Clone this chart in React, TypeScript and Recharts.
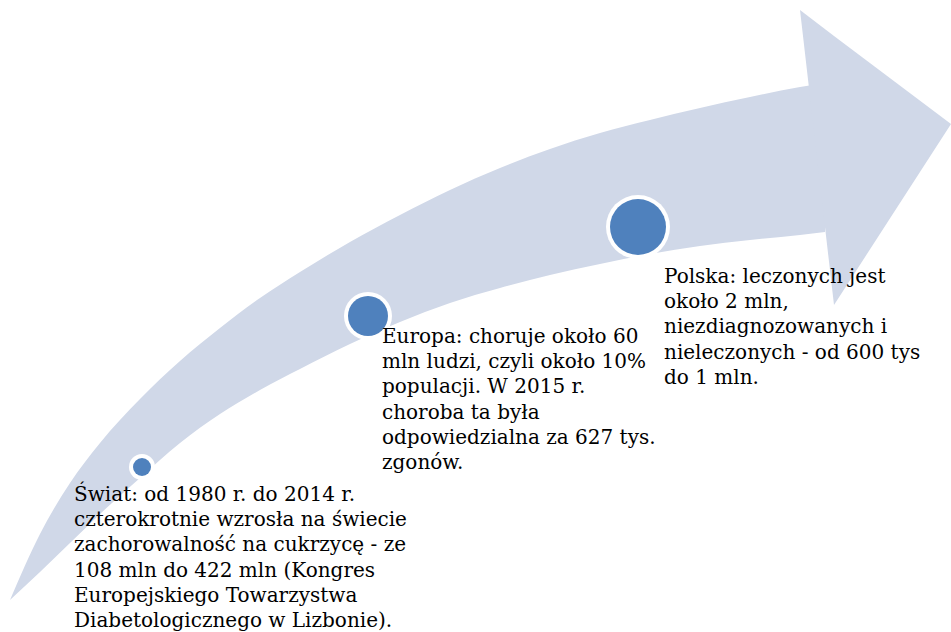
import { ComposedChart, Area, Scatter, XAxis, YAxis, ZAxis } from "recharts";

// canvas units = screen pixels, y measured from the top
const W = 951;
const H = 632;

// curved arrow body: upper / lower edge sampled along x
const bodyX = [10, 40, 70, 100, 140, 180, 220, 260, 300, 350, 400, 450, 500, 550, 600, 650, 700, 750, 800, 825];
const bodyUpper = [600, 534, 483, 443, 399, 361, 328, 298, 272, 242, 215, 190, 168, 149, 133, 120, 108, 97, 87, 83];
const bodyLower = [600, 572, 543, 514, 478, 443, 414, 390, 369, 344, 322, 303, 288, 275, 264, 254, 246, 240, 235, 232];

// arrow head (triangle)
const headX = [800, 834, 951];
const headUpper = [10, 36, 124];
const headLower = [10, 305, 124];

// milestones on the arrow
const stepNames = ["Świat", "Europa", "Polska"];
const stepX = [142, 368, 638];
const stepY = [467, 316, 227];
const stepArea = [81, 400, 784];

// captions
const swiatLines = [
  "Świat: od 1980 r. do 2014 r.",
  "czterokrotnie wzrosła na świecie",
  "zachorowalność na cukrzycę - ze",
  "108 mln do 422 mln (Kongres",
  "Europejskiego Towarzystwa",
  "Diabetologicznego w Lizbonie).",
];
const europaLines = [
  "Europa: choruje około 60",
  "mln ludzi, czyli około 10%",
  "populacji. W 2015 r.",
  "choroba ta była",
  "odpowiedzialna za 627 tys.",
  "zgonów.",
];
const polskaLines = [
  "Polska: leczonych jest",
  "około 2 mln,",
  "niezdiagnozowanych i",
  "nieleczonych - od 600 tys",
  "do 1 mln.",
];
const noteX = [74, 382, 664];
const noteY = [501, 343, 283];
const noteLines = [swiatLines, europaLines, polskaLines];

const bodyData = bodyX.map((x, i) => ({ x, band: [bodyLower[i], bodyUpper[i]] }));
const headData = headX.map((x, i) => ({ x, band: [headLower[i], headUpper[i]] }));
const stepData = stepNames.map((name, i) => ({ name, x: stepX[i], y: stepY[i], z: stepArea[i] }));
const noteData = noteLines.map((lines, i) => ({ x: noteX[i], y: noteY[i], lines }));

const ARROW = "#d0d8e8";
const DOT = "#4f81bd";

const StepDot = (props: any) => {
  const { cx, cy, size, payload } = props;
  const area = size || Math.PI * payload.z;
  const r = Math.sqrt(area / Math.PI);
  return (
    <g>
      <circle cx={cx} cy={cy} r={r + 4} fill="#ffffff" />
      <circle cx={cx} cy={cy} r={r} fill={DOT} />
    </g>
  );
};

const Note = (props: any) => {
  const { cx, cy, payload } = props;
  return (
    <text x={cx} y={cy} fontFamily="'DejaVu Serif', serif" fontSize={20} fill="#000">
      {payload.lines.map((l: string, i: number) => (
        <tspan key={i} x={cx} dy={i === 0 ? 0 : 25.2}>
          {l}
        </tspan>
      ))}
    </text>
  );
};

export default function App() {
  return (
    <div style={{ position: "absolute", left: 0, top: 0, width: W, height: H, background: "#fff" }}>
      <ComposedChart width={W} height={H} margin={{ top: 0, right: 0, bottom: 0, left: 0 }}>
        <XAxis dataKey="x" type="number" domain={[0, W]} hide />
        <YAxis type="number" domain={[0, H]} reversed hide />
        <ZAxis dataKey="z" type="number" domain={[0, 784]} range={[0, Math.PI * 784]} />
        <Area
          data={bodyData}
          dataKey="band"
          type="monotone"
          fill={ARROW}
          fillOpacity={1}
          stroke="none"
          dot={false}
          activeDot={false}
          isAnimationActive={false}
        />
        <Area
          data={headData}
          dataKey="band"
          type="linear"
          fill={ARROW}
          fillOpacity={1}
          stroke="none"
          dot={false}
          activeDot={false}
          isAnimationActive={false}
        />
        <Scatter data={stepData} dataKey="y" shape={StepDot} isAnimationActive={false} />
        <Scatter data={noteData} dataKey="y" shape={Note} isAnimationActive={false} />
      </ComposedChart>
    </div>
  );
}
